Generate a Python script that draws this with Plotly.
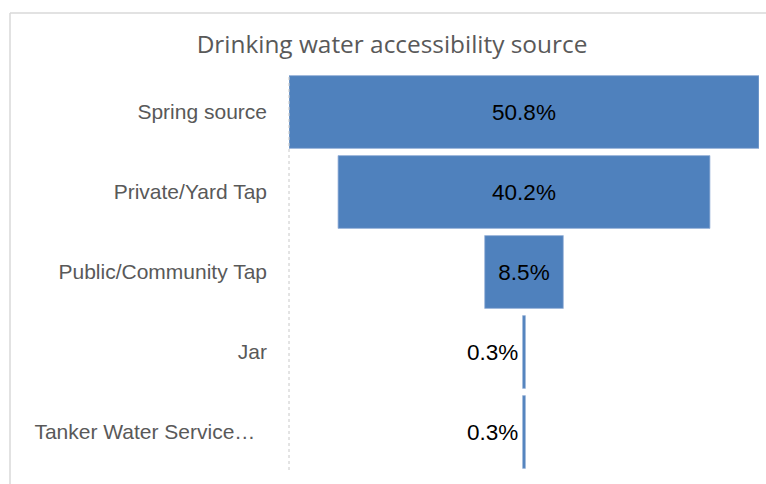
import plotly.graph_objects as go

categories = ["Spring source", "Private/Yard Tap", "Public/Community Tap", "Jar", "Tanker Water Service\u2026"]
values = [50.8, 40.2, 8.5, 0.3, 0.3]
title_text = "Drinking water accessibility source"

W, H = 766, 484
ml, mr, mt, mb = 289, 7, 72, 12

small = [v < 5 for v in values]
texts = ["" if s else f"{v:.1f}%" for v, s in zip(values, small)]
tick_labels = [c + ("\u00a0\u00a0" if c.endswith("\u2026") else "") for c in categories]

LBL_FONT = "Liberation Sans, Arial, sans-serif"

fig = go.Figure(go.Funnel(
    y=tick_labels,
    x=values,
    text=texts,
    texttemplate="%{text}",
    textposition="inside",
    insidetextanchor="middle",
    insidetextfont=dict(family=LBL_FONT, size=22.5, color="#000000"),
    marker=dict(color="#4f81bd", line=dict(color="#9db6da", width=0.8)),
    connector=dict(visible=False),
    hoverinfo="skip",
))

m = max(values)
for c, v, s in zip(tick_labels, values, small):
    if s:
        fig.add_annotation(x=-v / 2, y=c, xref="x", yref="y", text=f"{v:.1f}%",
                           showarrow=False, xanchor="right", yanchor="middle", xshift=-3,
                           font=dict(family=LBL_FONT, size=22.5, color="#000000"))

ph = H - mt - mb
pw = W - ml - mr
def py(pix):
    return (H - mb - pix) / ph
def px(pix):
    return (pix - ml) / pw

# chart border (top and left)
fig.add_shape(type="line", xref="paper", yref="paper", x0=px(10), x1=px(800), y0=py(13), y1=py(13),
              line=dict(color="#d9d9d9", width=1.5))
fig.add_shape(type="line", xref="paper", yref="paper", x0=px(10), x1=px(10), y0=py(13), y1=py(500),
              line=dict(color="#d9d9d9", width=1.5))
# dotted category axis line
fig.add_shape(type="line", xref="paper", yref="paper", x0=0, x1=0, y0=py(470), y1=py(76),
              line=dict(color="#c8c8c8", width=1, dash="dot"))

fig.update_layout(
    width=W, height=H,
    margin=dict(l=ml, r=mr, t=mt, b=mb),
    paper_bgcolor="white", plot_bgcolor="white",
    showlegend=False,
    funnelgap=0.09,
    title=dict(text=title_text, x=392 / W, xanchor="center", y=1 - 44 / H, yanchor="middle",
               font=dict(family="Open Sans, sans-serif", size=24.4, color="#595959")),
    xaxis=dict(range=[-m / 2, m / 2], visible=False, fixedrange=True),
    yaxis=dict(showgrid=False, showline=False, zeroline=False, ticks="",
               ticklabelstandoff=21,
               tickfont=dict(family=LBL_FONT, size=21, color="#595959")),
)

fig.write_html("out.html")
